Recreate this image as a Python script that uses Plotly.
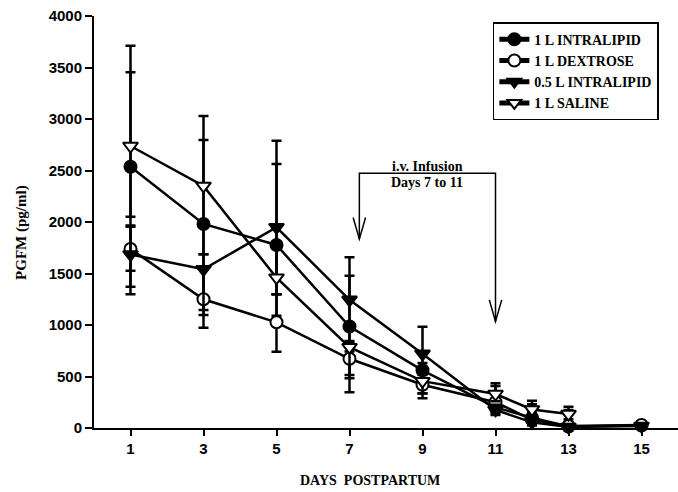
import plotly.graph_objects as go

days = [1, 3, 5, 7, 9, 11, 12, 13, 15]
x_ticks = [1, 3, 5, 7, 9, 11, 13, 15]
y_ticks = [0, 500, 1000, 1500, 2000, 2500, 3000, 3500, 4000]

names = ["1 L INTRALIPID", "1 L DEXTROSE", "0.5 L INTRALIPID", "1 L SALINE"]

il1_mean = [2537, 1981, 1777, 985, 560, 200, 100, 15, 25]
il1_plus = [916, 815, 786, 494, 70, 60, 50, 30, 10]
il1_minus = [485, 835, 479, 502, 223, 60, 40, 15, 10]

dex_mean = [1738, 1250, 1026, 672, 420, 250, 80, 20, 30]
dex_plus = [217, 290, 272, 70, 50, 158, 150, 155, 10]
dex_minus = [366, 276, 285, 325, 132, 90, 40, 15, 25]

il05_mean = [1685, 1541, 1949, 1245, 720, 175, 55, 10, 20]
il05_plus = [280, 145, 840, 412, 264, 50, 40, 20, 10]
il05_minus = [387, 444, 859, 417, 180, 49, 30, 10, 15]

sal_mean = [2738, 2350, 1459, 785, 455, 330, 180, 135, None]
sal_plus = [974, 679, 330, 60, 60, 104, 85, 72, 0]
sal_minus = [1211, 664, 161, 270, 120, 70, 60, 50, 0]

# annotation (infusion bracket) positions
arrow_left_x = 7.27
arrow_right_x = 11.0
bracket_y = 2474
tip_left_y = 1834
tip_right_y = 1034
head_dx = 0.17
head_dy = 210

series = [
    (names[0], il1_mean, il1_plus, il1_minus, "circle", "black"),
    (names[1], dex_mean, dex_plus, dex_minus, "circle", "white"),
    (names[2], il05_mean, il05_plus, il05_minus, "triangle-down", "black"),
    (names[3], sal_mean, sal_plus, sal_minus, "triangle-down", "white"),
]

fig = go.Figure()
for name, mean, plus, minus, sym, fill in series:
    fig.add_trace(go.Scatter(
        x=days, y=mean, name=name, mode="lines+markers",
        line=dict(color="black", width=2.5),
        marker=dict(symbol=sym, size=12 if sym == "circle" else 13, color=fill,
                    line=dict(color="black", width=2)),
        error_y=dict(type="data", symmetric=False, array=plus, arrayminus=minus,
                     color="black", thickness=2.5, width=5),
        cliponaxis=False,
    ))

serif = "Liberation Serif"
sans = "Liberation Sans"

path = (f"M {arrow_left_x},{tip_left_y} L {arrow_left_x},{bracket_y} "
        f"L {arrow_right_x},{bracket_y} L {arrow_right_x},{tip_right_y}")
head_l = (f"M {arrow_left_x - head_dx},{tip_left_y + head_dy} L {arrow_left_x},{tip_left_y} "
          f"L {arrow_left_x + head_dx},{tip_left_y + head_dy}")
head_r = (f"M {arrow_right_x - head_dx},{tip_right_y + head_dy} L {arrow_right_x},{tip_right_y} "
          f"L {arrow_right_x + head_dx},{tip_right_y + head_dy}")
for p in (path, head_l, head_r):
    fig.add_shape(type="path", path=p, xref="x", yref="y",
                  line=dict(color="black", width=1.5))

fig.add_annotation(x=(arrow_left_x + arrow_right_x) / 2, y=bracket_y, xref="x", yref="y",
                   text="<b>i.v. Infusion</b>", showarrow=False, yanchor="bottom", yshift=-3,
                   font=dict(family=serif, size=14, color="black"))
fig.add_annotation(x=(arrow_left_x + arrow_right_x) / 2, y=bracket_y, xref="x", yref="y",
                   text="<b>Days 7 to 11</b>", showarrow=False, yanchor="top", yshift=0,
                   font=dict(family=serif, size=14, color="black"))

fig.add_annotation(x=0.473, y=-0.128, xref="paper", yref="paper",
                   text="<b>DAYS  POSTPARTUM</b>", showarrow=False, yanchor="middle",
                   xanchor="center",
                   font=dict(family=serif, size=14, color="black"))
fig.add_annotation(x=-0.124, y=0.475, xref="paper", yref="paper",
                   text="<b>PGFM (pg/ml)</b>", showarrow=False, textangle=-90,
                   xanchor="center", yanchor="middle",
                   font=dict(family=serif, size=15, color="black"))

fig.update_layout(
    width=678, height=492,
    margin=dict(l=94, r=0, t=16, b=64),
    paper_bgcolor="white", plot_bgcolor="white",
    showlegend=True,
    legend=dict(x=0.683, y=0.985, xanchor="left", yanchor="top",
                bordercolor="black", borderwidth=1.5, bgcolor="white",
                font=dict(family=serif, size=14, color="black", weight="bold"),
                tracegroupgap=0, itemsizing="constant"),
    xaxis=dict(range=[0, 16], tickvals=x_ticks, ticktext=[str(v) for v in x_ticks],
               showgrid=False, zeroline=False, showline=True, linecolor="black",
               linewidth=1.5, ticks="outside", ticklen=6, tickwidth=2, tickcolor="black",
               tickfont=dict(family=sans, size=15, color="black", weight="bold")),
    yaxis=dict(range=[0, 4000], tickvals=y_ticks, showgrid=False, zeroline=False,
               showline=True, linecolor="black", linewidth=2, ticks="outside",
               ticklen=7, tickwidth=2, tickcolor="black",
               tickfont=dict(family=sans, size=15, color="black", weight="bold")),
)

fig.write_html("out.html")
